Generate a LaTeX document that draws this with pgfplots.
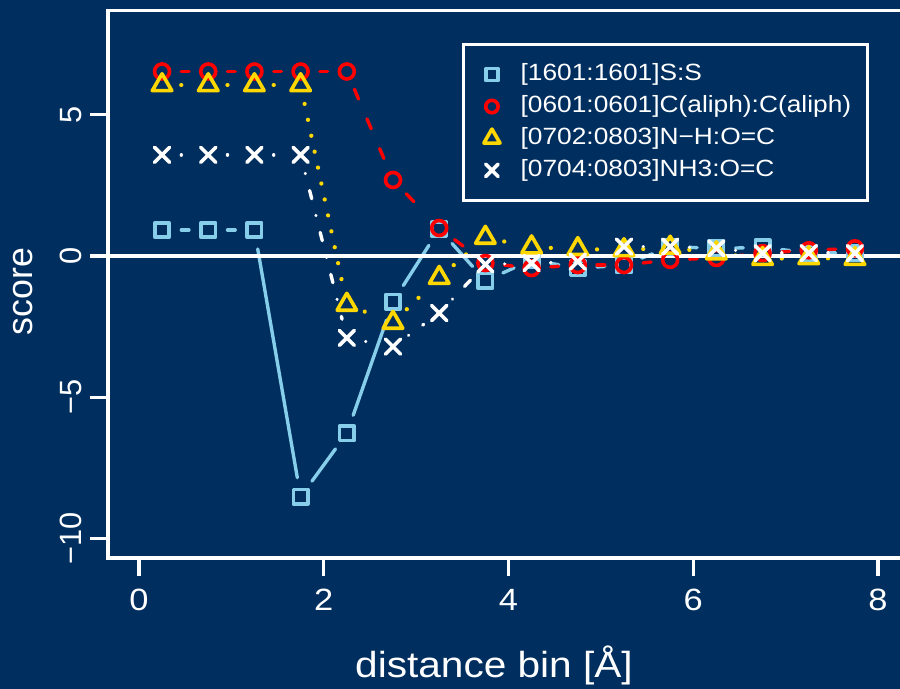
\documentclass[border=0pt]{standalone}
\usepackage{pgfplots}
\pgfplotsset{compat=1.18}
\usepackage{pgfplotstable}
\usepackage{fontspec}
\setmainfont{Liberation Sans}[FakeStretch=1.12]
\newfontfamily\rotfont{Liberation Sans}
\definecolor{bgc}{HTML}{002F5F}
\definecolor{cblue}{HTML}{87CEEB}
\definecolor{cred}{HTML}{FF0000}
\definecolor{cyel}{HTML}{FFD700}

\pgfplotstableread{
x    ss     cc     nh     nhthree
0.25  0.92  6.53   6.05   3.58
0.75  0.92  6.53   6.05   3.58
1.25  0.92  6.53   6.05   3.58
1.75 -8.52  6.53   6.05   3.58
2.25 -6.28  6.53  -1.72  -2.90
2.75 -1.62  2.69  -2.36  -3.21
3.25  0.95  0.99  -0.77  -2.02
3.75 -0.88 -0.25   0.65  -0.30
4.25 -0.14 -0.43   0.31  -0.25
4.75 -0.43 -0.32   0.25  -0.20
5.25 -0.33 -0.32   0.21   0.33
5.75  0.33 -0.14   0.30   0.33
6.25  0.27 -0.07   0.10   0.27
6.75  0.30  0.10  -0.10   0.10
7.25  0.12  0.20  -0.07   0.10
7.75  0.10  0.27  -0.10   0.10
}\scores

% line segments between consecutive points, with gaps at the points (R type="b")
\newcommand\segments[2]{%
  \pgfplotsforeachungrouped \segi in {0,...,14}{%
    \pgfmathtruncatemacro\segj{\segi+1}%
    \pgfplotstablegetelem{\segi}{x}\of\scores \let\xa\pgfplotsretval
    \pgfplotstablegetelem{\segi}{#1}\of\scores \let\ya\pgfplotsretval
    \pgfplotstablegetelem{\segj}{x}\of\scores \let\xb\pgfplotsretval
    \pgfplotstablegetelem{\segj}{#1}\of\scores \let\yb\pgfplotsretval
    \edef\temp{\noexpand\addplot[#2, forget plot] coordinates {(\xa,\ya) (\xb,\yb)};}%
    \temp
  }%
}

\pgfplotsset{
  segbase/.style={line width=1.35pt, line cap=round, shorten <=7.7pt, shorten >=7.7pt, mark=none},
  ssline/.style={segbase, cblue, solid},
  ccline/.style={segbase, cred, dash pattern=on 4.3pt off 8.6pt},
  nhline/.style={segbase, line width=1.7pt, cyel, dash pattern=on 0.01pt off 6.5pt},
  nhthreeline/.style={segbase, white, dash pattern=on 0.01pt off 7pt on 3.4pt off 6.9pt},
  mk/.style={only marks, mark options={solid, line width=1.45pt, line join=round, line cap=round, fill=none}},
  mylegimg/.style={legend image code/.code={%
      \path (-4pt,-4pt) (4pt,4pt);
      \draw[##1, every mark/.append style={scale=0.83}] plot[only marks] coordinates {(0pt,0pt)};}},
}

\begin{document}
\begin{tikzpicture}
\fill[bgc] (-43.2pt,-52.4pt) rectangle (316.8pt,223.2pt);
\begin{axis}[
  scale only axis, width=320.4pt, height=218.9pt,
  xmin=-0.335, xmax=8.335, ymin=-10.69, ymax=8.68,
  xtick={0,2,4,6,8}, ytick={-10,-5,0,5},
  yticklabels={−10,−5,0,5},
  tick pos=left, tick align=outside, major tick length=7.2pt,
  minor tick num=0,
  axis line style={white, line width=1.35pt},
  major tick style={white, line width=1.3pt},
  /pgf/number format/assume math mode=true,
  xticklabel shift=5.2pt, yticklabel shift=3.2pt,
  xticklabel style={font=\fontsize{12.3}{14}\selectfont, text=white, inner sep=0pt, anchor=north},
  yticklabel style={font=\rotfont\fontsize{12.3}{14}\selectfont, text=white, inner sep=0pt, rotate=90, anchor=base},
  legend cell align=left,
  legend style={at={(0.442,0.941)}, anchor=north west, draw=white, line width=1.35pt,
    fill=bgc, text=white, font=\fontsize{9.4}{11}\selectfont,
    inner xsep=6.6pt, inner ysep=7.3pt, row sep=3.4pt, column sep=0pt,
    nodes={inner sep=0pt, text height=6.8pt, text depth=1.9pt},
    /tikz/every odd column/.append style={column sep=6.8pt}},
]
\segments{ss}{ssline}
\addplot[mk, cblue, mark=square, mark size=2.9pt, mylegimg] table[x=x, y=ss] {\scores};
\addlegendentry{[1601:1601]S:S}
\segments{cc}{ccline}
\addplot[mk, cred, mark=o, mark size=3pt, mylegimg] table[x=x, y=cc] {\scores};
\addlegendentry{[0601:0601]C(aliph):C(aliph)}
\segments{nh}{nhline}
\addplot[mk, cyel, mark=triangle, mark size=4.5pt, mylegimg] table[x=x, y=nh] {\scores};
\addlegendentry{[0702:0803]N−H:O=C}
\segments{nhthree}{nhthreeline}
\addplot[mk, white, mark=x, mark size=4.25pt, mylegimg] table[x=x, y=nhthree] {\scores};
\addlegendentry{[0704:0803]NH3:O=C}
\addplot[white, line width=1.35pt, forget plot] coordinates {(-0.335,0) (8.335,0)};
\end{axis}
\node[font=\fontsize{14.5}{16}\selectfont, text=white, anchor=base] at (154.4pt,-48pt) {distance bin [Å]};
\node[font=\rotfont\fontsize{14.3}{16}\selectfont, text=white, rotate=90, anchor=base] at (-30pt,106.6pt) {score};
\pgfresetboundingbox
\path[use as bounding box] (-43.2pt,-52.4pt) rectangle (316.8pt,223.2pt);
\end{tikzpicture}
\end{document}
